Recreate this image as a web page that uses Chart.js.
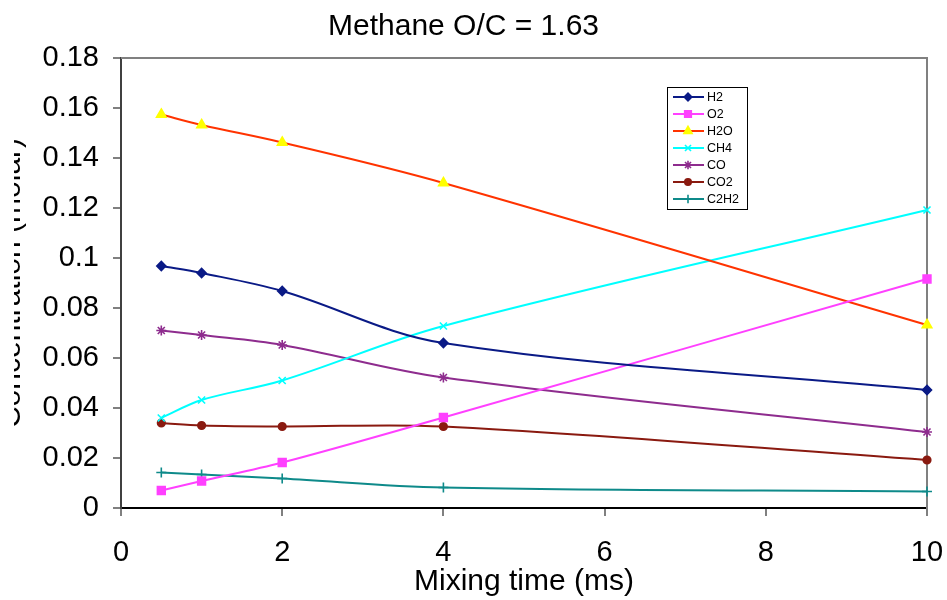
<!DOCTYPE html>
<html>
<head>
<meta charset="utf-8">
<script src="https://cdn.jsdelivr.net/npm/chart.js@4.4.1/dist/chart.umd.min.js"></script>
<style>
html,body{margin:0;padding:0;background:#fff;overflow:hidden}
#wrap{width:947px;height:600px;position:relative}
</style>
</head>
<body>
<div id="wrap"><canvas id="c" width="947" height="600"></canvas></div>
<script>
// ---- data ----
const mixingTime = [0.5, 1, 2, 4, 10];
const h2   = [0.0968, 0.0940, 0.0868, 0.0660, 0.0472];
const o2   = [0.0070, 0.0108, 0.0182, 0.0362, 0.0916];
const h2o  = [0.1574, 0.1532, 0.1462, 0.1300, 0.0732];
const ch4  = [0.0360, 0.0432, 0.0510, 0.0728, 0.1192];
const co   = [0.0710, 0.0692, 0.0652, 0.0522, 0.0304];
const co2  = [0.0340, 0.0330, 0.0326, 0.0326, 0.0192];
const c2h2 = [0.0142, 0.0134, 0.0118, 0.0082, 0.0066];
const seriesNames = ['H2', 'O2', 'H2O', 'CH4', 'CO', 'CO2', 'C2H2'];
const xTicks = [0, 2, 4, 6, 8, 10];
const yTicks = [0, 0.02, 0.04, 0.06, 0.08, 0.1, 0.12, 0.14, 0.16, 0.18];
const chartTitle = 'Methane O/C = 1.63';
const xTitle = 'Mixing time (ms)';
const yTitle = 'Concentration (molar)';

// ---- styles ----
const FONT = '"Liberation Sans", Arial, sans-serif';
const styles = [
  {line: '#0a1a86', fill: '#0a1a86', pt: 'rectRot',  r: 4.5},
  {line: '#ff40ff', fill: '#ff40ff', pt: 'rect',     r: 5.5},
  {line: '#ff3300', fill: '#ffff00', pt: 'triangle', r: 5.5},
  {line: '#00ffff', fill: '#00ffff', pt: 'crossRot', r: 5},
  {line: '#8e2c8e', fill: '#8e2c8e', pt: 'star',     r: 5},
  {line: '#8a1a10', fill: '#8a1a10', pt: 'circle',   r: 3.8},
  {line: '#0e8a8a', fill: '#0e8a8a', pt: 'cross',    r: 5}
];
const seriesValues = [h2, o2, h2o, ch4, co, co2, c2h2];

const datasets = seriesNames.map((name, i) => ({
  label: name,
  data: mixingTime.map((t, j) => ({x: t, y: seriesValues[i][j]})),
  borderColor: styles[i].line,
  backgroundColor: styles[i].fill,
  pointBackgroundColor: styles[i].fill,
  pointBorderColor: styles[i].fill,
  pointStyle: styles[i].pt,
  pointRadius: styles[i].r,
  pointHoverRadius: styles[i].r,
  pointBorderWidth: 1.6,
  borderWidth: 2,
  tension: 0.35,
  fill: false,
  clip: false
}));

const framePlugin = {
  id: 'frame',
  beforeDatasetsDraw(chart) {
    const {ctx, chartArea: a} = chart;
    ctx.save();
    ctx.strokeStyle = '#808080';
    ctx.lineWidth = 2;
    ctx.beginPath();
    ctx.moveTo(a.left, a.top);
    ctx.lineTo(a.right, a.top);
    ctx.lineTo(a.right, a.bottom + 8);
    ctx.stroke();
    ctx.restore();
  },
  afterDraw(chart) {
    const {ctx, chartArea: a} = chart;
    // clipped y-axis title
    ctx.save();
    ctx.beginPath();
    ctx.rect(14, 0, 60, 600);
    ctx.clip();
    ctx.translate(20, (a.top + a.bottom) / 2);
    ctx.rotate(-Math.PI / 2);
    ctx.font = '30px ' + FONT;
    ctx.fillStyle = '#000';
    ctx.textAlign = 'center';
    ctx.textBaseline = 'alphabetic';
    ctx.fillText(yTitle, 0, 0);
    ctx.restore();

    // legend box
    const bx = 667, by = 87, bw = 80, bh = 122;
    ctx.save();
    ctx.fillStyle = '#fff';
    ctx.fillRect(bx, by, bw, bh);
    ctx.strokeStyle = '#000';
    ctx.lineWidth = 1;
    ctx.strokeRect(bx + 0.5, by + 0.5, bw, bh);
    chart.data.datasets.forEach((ds, i) => {
      const y = by + 10 + i * 17;
      ctx.strokeStyle = ds.borderColor;
      ctx.lineWidth = 2;
      ctx.beginPath();
      ctx.moveTo(bx + 6, y);
      ctx.lineTo(bx + 37, y);
      ctx.stroke();
      ctx.fillStyle = ds.pointBackgroundColor;
      ctx.strokeStyle = ds.pointBorderColor;
      ctx.lineWidth = 1.6;
      Chart.helpers.drawPoint(ctx, {pointStyle: ds.pointStyle, radius: ds.pointRadius * 0.85, rotation: 0, borderWidth: 1.6}, bx + 21, y);
      ctx.fillStyle = '#000';
      ctx.font = '12.5px ' + FONT;
      ctx.textAlign = 'left';
      ctx.textBaseline = 'middle';
      ctx.fillText(ds.label, bx + 40, y + 1);
    });
    ctx.restore();
  }
};

new Chart(document.getElementById('c'), {
  type: 'line',
  data: {datasets},
  plugins: [framePlugin],
  options: {
    responsive: false,
    animation: false,
    events: [],
    layout: {padding: {left: 0, right: 20, top: 0, bottom: 0}},
    plugins: {
      legend: {display: false},
      tooltip: {enabled: false},
      title: {
        display: true,
        text: chartTitle,
        color: '#000',
        font: {family: FONT, size: 30, weight: 'normal'},
        padding: {top: 9, bottom: 13}
      }
    },
    scales: {
      x: {
        type: 'linear',
        min: 0, max: 10,
        afterBuildTicks: s => { s.ticks = xTicks.map(v => ({value: v})); },
        afterFit: s => { s.height = 92; s.paddingRight = 0; s.paddingLeft = 0; },
        grid: {drawOnChartArea: false, drawTicks: true, tickLength: 8, color: '#808080', lineWidth: 2},
        border: {display: true, color: '#000', width: 2},
        ticks: {color: '#000', font: {family: FONT, size: 29}, padding: 20, maxRotation: 0, autoSkip: false,
                callback: v => String(v)},
        title: {display: true, text: xTitle, color: '#000', font: {family: FONT, size: 30}, padding: {top: 0, bottom: 0}}
      },
      y: {
        type: 'linear',
        min: 0, max: 0.18,
        afterBuildTicks: s => { s.ticks = yTicks.map(v => ({value: v})); },
        afterFit: s => { s.width = 121; },
        grid: {drawOnChartArea: false, drawTicks: true, tickLength: 8, color: '#808080', lineWidth: 2},
        border: {display: true, color: '#404040', width: 2},
        ticks: {color: '#000', font: {family: FONT, size: 29}, padding: 14, autoSkip: false,
                callback: v => String(Number(v.toFixed(2)))}
      }
    }
  }
});
</script>
</body>
</html>
